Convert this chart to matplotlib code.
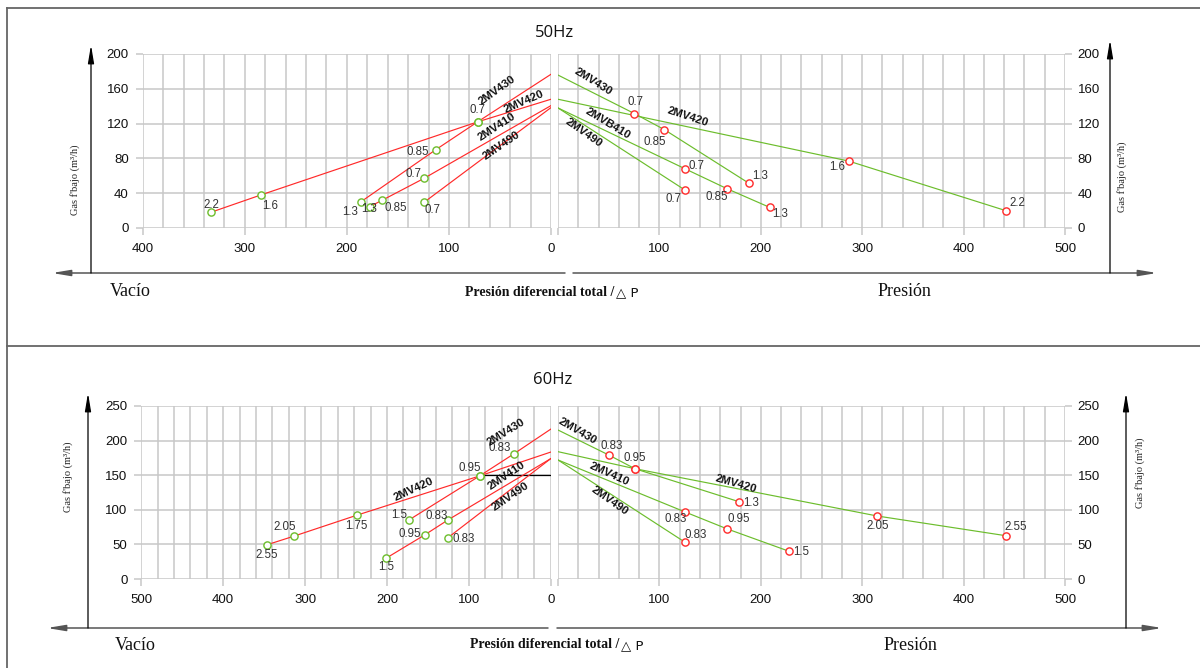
import numpy as np
import matplotlib
matplotlib.use("Agg")
import matplotlib.pyplot as plt

# ---------------- DATA ----------------
# 50 Hz, vacuum side (x = vacuum / pressure difference, y = gas flow m3/h)
vac50_names = ["2MV420", "2MV430", "2MV410", "2MV490"]
vac50_x = [[333.3, 283.7, 71.9, 0], [186.6, 113.0, 71.9, 0], [177.8, 165.7, 124.5, 0], [124.5, 0]]
vac50_y = [[18.0, 38.2, 122.0, 148.0], [29.8, 89.9, 122.0, 176.7], [24.5, 31.7, 57.0, 140.7], [29.4, 138.4]]
vac50_lbl = [["2.2", "1.6", "0.7"], ["1.3", "0.85", ""], ["1.3", "0.85", "0.7"], ["0.7"]]

# 50 Hz, pressure side
prs50_names = ["2MV430", "2MV420", "2MVB410", "2MV490"]
prs50_x = [[0, 75.4, 105.0, 188.2], [0, 286.5, 441.5], [0, 125.4, 167.0, 208.6], [0, 125.4]]
prs50_y = [[175.8, 131.5, 113.0, 51.5], [148.0, 77.0, 20.0], [138.0, 68.0, 45.0, 23.8], [138.0, 43.5]]
prs50_lbl = [["", "0.7", "0.85", "1.3"], ["", "1.6", "2.2"], ["", "0.7", "0.85", "1.3"], ["", "0.7"]]

# 60 Hz, vacuum side
vac60_names = ["2MV420", "2MV430", "2MV410", "2MV490"]
vac60_x = [[346.9, 313.9, 236.2, 86.7, 0], [172.6, 86.7, 44.8, 0], [201.5, 153.9, 125.0, 0], [125.8, 0]]
vac60_y = [[49.3, 61.8, 92.4, 149.0, 183.4], [85.7, 149.0, 181.0, 216.5], [29.7, 63.7, 85.7, 173.9], [59.4, 173.9]]
vac60_lbl = [["2.55", "2.05", "1.75", "0.95"], ["1.5", "", "0.83"], ["1.5", "0.95", "0.83"], ["0.83"]]
vac60_ref_x = [86.7, 0]
vac60_ref_y = [150.0, 150.0]

# 60 Hz, pressure side
prs60_names = ["2MV430", "2MV420", "2MV410", "2MV490"]
prs60_x = [[0, 50.7, 75.8, 178.3], [0, 75.8, 315.0, 441.5], [0, 125.4, 167.0, 228.0], [0, 125.4]]
prs60_y = [[215.3, 178.7, 159.4, 111.8], [184.0, 159.4, 91.0, 62.6], [172.0, 96.8, 72.3, 40.0], [172.0, 53.0]]
prs60_lbl = [["", "0.83", "0.95", "1.3"], ["", "", "2.05", "2.55"], ["", "0.83", "0.95", "1.5"], ["", "0.83"]]

xticks_vac50 = [400, 300, 200, 100, 0]
xticks_vac60 = [500, 400, 300, 200, 100, 0]
xticks_prs = [0, 100, 200, 300, 400, 500]
xticklabels_prs = ["", "100", "200", "300", "400", "500"]
yticks_50 = [0, 40, 80, 120, 160, 200]
yticks_60 = [0, 50, 100, 150, 200, 250]

# ---------------- STYLE ----------------
RED = "#ff2a2a"
GREEN = "#6cbd2c"
GRID = "#c8c8c8"
TXT = "#333333"
SANS = ["Liberation Sans", "DejaVu Sans"]
SERIF = ["Liberation Serif", "DejaVu Serif"]

# label offsets in pixels (dx, dy) for each point label
off_vac50 = [[(1, 7), (9, -11), (0, 12)], [(-10, -10), (-18, -2), None], [(0, -2), (14, -8), (-10, 4)], [(9, -8)]]
off_prs50 = [[None, (1, 12), (-10, -12), (11, 7)], [None, (-11, -6), (12, 8)],
             [None, (11, 3), (-11, -8), (11, -7)], [None, (-12, -9)]]
off_vac60 = [[(0, -10), (-9, 9), (-1, -11), (-10, 8)], [(-10, 5), None, (-14, 6)],
             [(0, -9), (-15, 1), (-12, 4)], [(16, -1)]]
off_prs60 = [[None, (2, 9), (0, 11), (12, -1)], [None, None, (0, -10), (10, 9)],
             [None, (-9, -7), (11, 10), (12, -1)], [None, (11, 7)]]

# model-name label placement (data coords, display rotation)
name_vac50 = [(26.1, 145.3, 23.5), (52.3, 158.0, 35.5), (52.9, 115.9, 33.0), (48.4, 95.2, 34.4)]
name_prs50 = [(34.5, 168.0, -31.9), (128.0, 127.7, -18.3), (49.3, 120.0, -31.2), (25.0, 109.6, -35.1)]
name_vac60 = [(166.9, 129.3, 24.7), (54.6, 211.7, 31.8), (53.7, 149.4, 34.0), (48.9, 119.7, 34.4)]
name_prs60 = [(19.7, 214.3, -30.2), (175.8, 137.3, -15.9), (50.7, 151.7, -24.5), (51.0, 113.2, -35.1)]

W, H = 1200, 668
fig = plt.figure(figsize=(W / 100, H / 100), dpi=100)


def px_axes(x0, x1, ytop, ybot):
    return fig.add_axes([x0 / W, 1 - ybot / H, (x1 - x0) / W, (ybot - ytop) / H])


def style(ax, xlim, xticks, yticks, right=False, xlabels=None):
    ax.set_xlim(*xlim)
    ax.set_ylim(0, yticks[-1])
    ax.set_xticks(xticks)
    if xlabels is not None:
        ax.set_xticklabels(xlabels)
    lo, hi = min(xlim), max(xlim)
    ax.set_xticks(np.arange(lo, hi + 1, 20), minor=True)
    ax.set_yticks(yticks)
    ax.set_axisbelow(True)
    ax.grid(True, which="both", axis="x", color=GRID, lw=1.1)
    ax.grid(True, which="major", axis="y", color=GRID, lw=1.1)
    for s in ax.spines.values():
        s.set_visible(False)
    ax.tick_params(which="major", length=5, width=1.1, color=GRID, labelsize=9.5,
                   labelcolor="#111111")
    ax.tick_params(axis="x", which="major", pad=6)
    ax.tick_params(axis="y", which="major", pad=5 if not right else 4)
    ax.tick_params(which="minor", length=0)
    if right:
        ax.yaxis.tick_right()
    for lab in ax.get_xticklabels() + ax.get_yticklabels():
        lab.set_family(SANS)
    ax.patch.set_alpha(0)


def draw_panel(ax, xs, ys, lbls, offs, names, nameplace, line_col, mk_col):
    for i in range(len(xs)):
        x, y = xs[i], ys[i]
        ax.plot(x, y, color=line_col, lw=0.85, zorder=3, solid_joinstyle="miter")
        for j, t in enumerate(lbls[i]):
            xi, yi = x[j], y[j]
            if xi != 0:
                ax.plot([xi], [yi], marker="o", ms=5.2, mfc="white", mec=mk_col, mew=1.0,
                        zorder=4, linestyle="none")
            if t:
                dx, dy = offs[i][j]
                ax.annotate(t, (xi, yi), xytext=(dx, dy), textcoords="offset pixels",
                            ha="center", va="center", fontsize=8.3, color=TXT,
                            family=SANS, zorder=5)
        nx, ny, rot = nameplace[i]
        ax.text(nx, ny, names[i], rotation=rot, rotation_mode="anchor", ha="center",
                va="center", fontsize=8.2, fontweight="bold", color="#111111",
                family=SANS, zorder=5)


# ---------- 50 Hz ----------
axA = px_axes(142.7, 551, 54, 228)
style(axA, (400, 0), xticks_vac50, yticks_50)
draw_panel(axA, vac50_x, vac50_y, vac50_lbl, off_vac50, vac50_names, name_vac50, RED, GREEN)

axB = px_axes(558, 1065, 54, 228)
style(axB, (0, 500), xticks_prs, yticks_50, right=True, xlabels=xticklabels_prs)
draw_panel(axB, prs50_x, prs50_y, prs50_lbl, off_prs50, prs50_names, name_prs50, GREEN, RED)

# ---------- 60 Hz ----------
axC = px_axes(141.3, 550.7, 406, 579)
style(axC, (500, 0), xticks_vac60, yticks_60)
draw_panel(axC, vac60_x, vac60_y, vac60_lbl, off_vac60, vac60_names, name_vac60, RED, GREEN)
axC.plot(vac60_ref_x, vac60_ref_y, color="black", lw=0.9, zorder=2)

axD = px_axes(558, 1065, 406, 579)
style(axD, (0, 500), xticks_prs, yticks_60, right=True, xlabels=xticklabels_prs)
draw_panel(axD, prs60_x, prs60_y, prs60_lbl, off_prs60, prs60_names, name_prs60, GREEN, RED)

# ---------- decorations (pixel overlay) ----------
ov = fig.add_axes([0, 0, 1, 1], zorder=-1)
ov.set_xlim(0, W)
ov.set_ylim(H, 0)
ov.axis("off")

FRAME = "#666666"
ov.plot([7, 1200], [8, 8], color=FRAME, lw=1.3)
ov.plot([7, 7], [8, 668], color=FRAME, lw=1.3)
ov.plot([7, 1200], [346, 346], color=FRAME, lw=1.3)


def arrow(x0, y0, x1, y1, col, lw):
    ov.annotate("", xy=(x1, y1), xytext=(x0, y0),
                arrowprops=dict(arrowstyle="-|>,head_length=1.2,head_width=0.2",
                                mutation_scale=9, color=col, lw=lw,
                                shrinkA=0, shrinkB=0))


# 50Hz arrows
arrow(565, 273, 52, 273, "#555555", 1.1)
arrow(573, 273, 1157, 273, "#555555", 1.1)
arrow(91, 273, 91, 45, "black", 0.9)
arrow(1110, 273, 1110, 40, "black", 0.9)
# 60Hz arrows
arrow(548, 628, 47, 628, "#555555", 1.1)
arrow(557, 628, 1162, 628, "#555555", 1.1)
arrow(88, 628, 88, 393, "black", 0.9)
arrow(1126, 628, 1126, 393, "black", 0.9)

TITLE = ["Open Sans", "DejaVu Sans"]
ov.text(555, 33, "50Hz", ha="center", va="center", fontsize=12, family=TITLE, color="#111111")
ov.text(553, 380, "60Hz", ha="center", va="center", fontsize=12, family=TITLE, color="#111111")

for (vx, px_, py, mainx) in [(110, 878, 292, 614), (115, 884, 645, 619)]:
    ov.text(vx, py, "Vacío", ha="left", va="center", fontsize=13, family=SERIF, color="#111111")
    ov.text(px_, py, "Presión", ha="left", va="center", fontsize=13, family=SERIF, color="#111111")
    ov.text(mainx, py, "Presión diferencial total /", ha="right", va="center", fontsize=10,
            fontweight="bold", family=SERIF, color="#111111")
    ov.text(mainx + 2, py + 0.5, "△ P", ha="left", va="center", fontsize=9.5,
            family=["DejaVu Sans"], color="#111111")

YL = "Gas f'bajo (m³/h)"
for (x, y) in [(75, 180), (1122, 177), (68, 477), (1140, 473)]:
    ov.text(x, y, YL, rotation=90, ha="center", va="center", fontsize=7.5, family=SERIF,
            color="#222222")

fig.savefig("out.png", dpi=100)
